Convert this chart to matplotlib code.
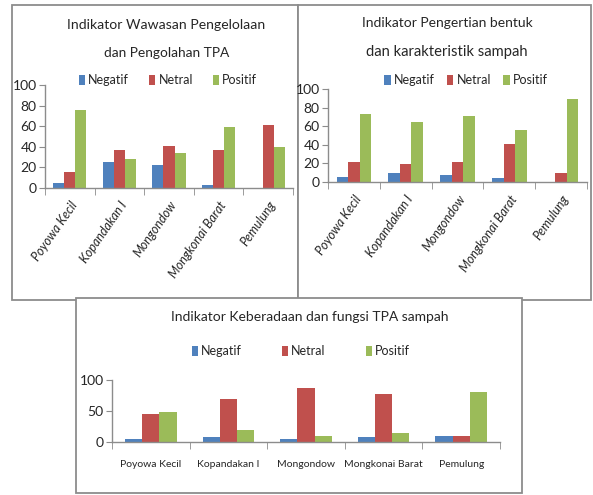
import matplotlib
matplotlib.use("Agg")
import matplotlib.pyplot as plt
import numpy as np
from matplotlib.patches import Rectangle, Patch

plt.rcParams['font.family'] = ['Lato', 'DejaVu Sans']

# data
kategori = ["Poyowa Kecil", "Kopandakan I", "Mongondow", "Mongkonai Barat", "Pemulung"]
seri = ["Negatif", "Netral", "Positif"]

wawasan_negatif = [5, 25, 22, 3, 0]
wawasan_netral = [16, 37, 41, 37, 61]
wawasan_positif = [76, 28, 34, 59, 40]

pengertian_negatif = [5, 10, 7, 4, 0]
pengertian_netral = [21, 19, 22, 41, 10]
pengertian_positif = [73, 65, 71, 56, 89]

keberadaan_negatif = [5, 8, 5, 8, 10]
keberadaan_netral = [45, 70, 87, 78, 10]
keberadaan_positif = [49, 19, 10, 15, 80]

warna = ["#4F81BD", "#C0504D", "#9BBB59"]
abu = "#8C8C8C"
teks = "#262626"

W, H = 593, 495
fig = plt.figure(figsize=(W / 100, H / 100), dpi=100)
renderer = fig.canvas.get_renderer()


def rect(x0, y0, x1, y1):
    # pixel box (top-left origin) -> figure fraction
    return [x0 / W, 1 - y1 / H, (x1 - x0) / W, (y1 - y0) / H]


def fx(x):
    return x / W


def fy(y):
    return 1 - y / H


def box(x0, y0, x1, y1, z):
    fig.patches.append(Rectangle((x0 / W, 1 - y1 / H), (x1 - x0) / W, (y1 - y0) / H,
                                 transform=fig.transFigure, facecolor="white",
                                 edgecolor=abu, linewidth=1.3, zorder=z))


def judul(cx, cy, s, width_px, z=3):
    # title text, scaled so its width matches the reference
    t = fig.text(fx(cx), fy(cy), s, ha="center", va="center", fontsize=12,
                 color=teks, zorder=z)
    w = t.get_window_extent(renderer).width
    t.set_fontsize(12 * width_px / w)
    return t


def panel(pos, data, yticks, rotated, lab_size, tick_size, z):
    ax = fig.add_axes(rect(*pos), zorder=z)
    ax.patch.set_alpha(0)
    x = np.arange(len(kategori))
    w = 1 / 4.5
    for i, vals in enumerate(data):
        ax.bar(x + (i - 1) * w, vals, width=w, color=warna[i], label=seri[i])
    ax.set_xlim(-0.5, len(kategori) - 0.5)
    ax.set_ylim(0, 100)
    ax.set_yticks(yticks)
    ax.tick_params(axis="y", length=4, color=abu, labelsize=tick_size, labelcolor=teks, pad=2)
    ax.set_xticks(x)
    ax.set_xticks(np.arange(-0.5, len(kategori)), minor=True)
    ax.tick_params(axis="x", which="major", length=0, labelcolor=teks)
    ax.tick_params(axis="x", which="minor", length=5, color=abu)
    if rotated:
        ax.set_xticklabels(kategori, rotation=55, ha="right", va="top",
                           rotation_mode="anchor", fontsize=lab_size, style="italic")
        ax.tick_params(axis="x", which="major", pad=8)
    else:
        ax.set_xticklabels(kategori, fontsize=lab_size)
        ax.tick_params(axis="x", which="major", pad=13)
    for s in ["top", "right"]:
        ax.spines[s].set_visible(False)
    for s in ["left", "bottom"]:
        ax.spines[s].set_color(abu)
        ax.spines[s].set_linewidth(1.0)
    return ax


def legenda(cx, cy, size, spacing, z=3):
    handles = [Patch(facecolor=warna[i], label=seri[i]) for i in range(3)]
    lg = fig.legend(handles=handles, loc="center", bbox_to_anchor=(fx(cx), fy(cy)),
                    ncol=3, frameon=False, fontsize=size, handlelength=0.5,
                    handleheight=0.9, handletextpad=0.25, columnspacing=spacing,
                    labelcolor=teks)
    lg.set_zorder(z)
    return lg


# top-left panel
box(12, 5, 298, 300, 0)
panel((45, 85, 293, 188),
      [wawasan_negatif, wawasan_netral, wawasan_positif],
      [0, 20, 40, 60, 80, 100], True, 9, 10, 1)
judul(166, 25, "Indikator Wawasan Pengelolaan", 197)
judul(167, 53, "dan Pengolahan TPA", 125)
legenda(168, 80, 9, 1.6)

# top-right panel
box(298, 5, 591, 300, 0)
panel((328, 89, 587, 182),
      [pengertian_negatif, pengertian_netral, pengertian_positif],
      [0, 20, 40, 60, 80, 100], True, 9, 10, 1)
judul(447, 23, "Indikator Pengertian bentuk", 170)
judul(447, 52, "dan karakteristik sampah", 160)
legenda(466, 80, 9, 1.0)

# bottom panel
box(76, 298, 522, 493, 5)
panel((112, 380, 500, 442),
      [keberadaan_negatif, keberadaan_netral, keberadaan_positif],
      [0, 50, 100], False, 7.5, 10, 6)
judul(310, 317, "Indikator Keberadaan dan fungsi TPA sampah", 276, z=7)
legenda(301, 351, 9, 3.2, z=7)

fig.savefig("out.png", dpi=100)
